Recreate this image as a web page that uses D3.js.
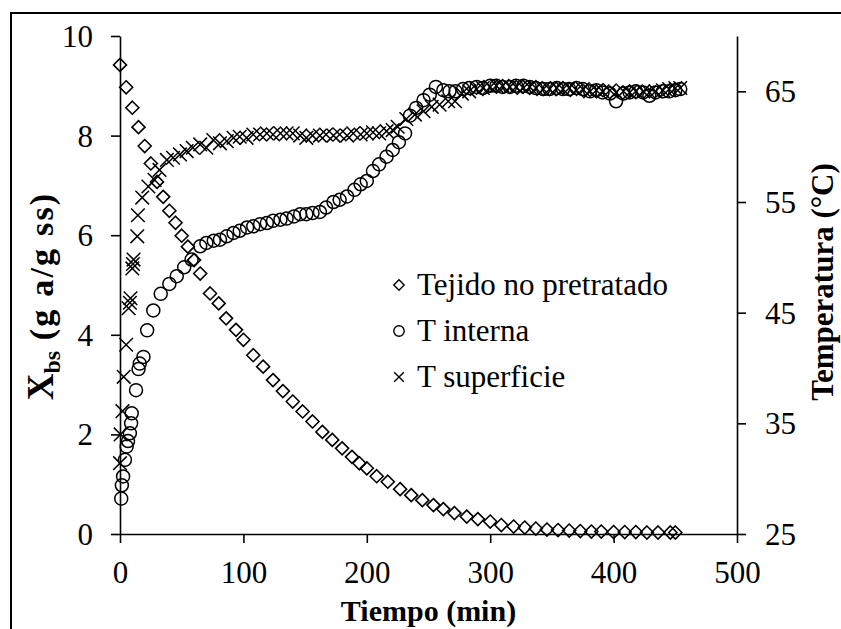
<!DOCTYPE html>
<html>
<head>
<meta charset="utf-8">
<script src="https://cdn.jsdelivr.net/npm/d3@7"></script>
<style>
  html, body { margin: 0; padding: 0; background: #fff; }
  svg { display: block; }
</style>
</head>
<body>
<svg id="chart" width="841" height="629"></svg>
<script>
// Moisture content of untreated tissue (left axis)
const tejidoTime = [0,5,10,15,20,25,30,35,40,45,
  50,55,60,65,73,80,86,94,100,108,
  116,124,132,140,148,156,164,172,180,188,
  194,200,208,217,227,236,245,254,262,271,
  281,290,300,309,319,328,337,346,355,364,
  373,382,390,400,409,418,427,436,446,450];
const tejidoXbs = [9.42,8.97,8.56,8.17,7.79,7.44,7.07,6.77,6.49,6.25,
  5.99,5.77,5.50,5.23,4.83,4.63,4.33,4.10,3.90,3.59,
  3.36,3.09,2.87,2.66,2.46,2.26,2.05,1.89,1.72,1.55,
  1.42,1.32,1.16,1.05,0.90,0.78,0.68,0.58,0.50,0.42,
  0.35,0.30,0.25,0.18,0.15,0.13,0.11,0.09,0.08,0.07,
  0.06,0.05,0.05,0.04,0.04,0.04,0.03,0.03,0.03,0.03];

// Internal temperature (right axis)
const internaTime = [1,1.5,2.5,4,5.4,6.5,8,9,9.5,13,
  15,16,19,22,27,33,40,46,52,58,
  65,70,76,81,86.5,92,97,103,108,113.5,
  119,124,130,135,141,146,151,156,162,167,
  173,178,184,190,195,200,205,210,216,221,
  226,231,235,240,246,251,256,262,267,272,
  278,283,289,294,300,305,310,316,321,327,
  332,337,343,348,354,359,364,370,375,381,
  386,391,397,402,408,413,418,424,429,434,
  440,445,450,454];
const internaTemp = [28.2,29.4,30.2,31.7,32.9,33.4,34.1,35.0,35.9,38.0,
  39.9,40.4,41.0,43.4,45.2,46.7,47.6,48.3,49.1,49.8,
  51.0,51.3,51.5,51.6,51.9,52.2,52.4,52.7,52.8,53.0,
  53.1,53.3,53.4,53.5,53.7,53.9,53.9,54.0,54.1,54.5,
  55.0,55.2,55.5,56.1,56.6,56.9,57.8,58.4,59.1,59.7,
  60.4,61.2,62.8,63.5,64.2,64.7,65.4,65.1,65.0,65.0,
  65.2,65.3,65.4,65.3,65.5,65.5,65.4,65.4,65.5,65.5,
  65.4,65.3,65.2,65.2,65.3,65.2,65.2,65.3,65.2,65.0,
  65.1,64.9,64.8,64.1,64.8,64.9,65.0,64.9,64.6,64.9,
  65.0,65.0,65.1,65.2];

// Surface temperature (right axis)
const superficieTime = [0,0.5,2,3,5,7,8,8.5,10,10.5,
  11,14,14.5,18,23,28,32,38,43,48.6,
  54,59,65,70,75.6,81,86.5,92,97,102.6,
  108,113.5,119,124,130,135,140,146,151,156,
  162,167,173,178,184,189,195,200,205,210,
  216,221,225,232,239,246,252.6,259,266,271.5,
  277,283,289,294,300,305,310,316,321,327,
  332,337,343,348,354,359,364,370,375,381,
  386,391,397,402,408,413,418,424,429,434,
  440,445,450,454];
const superficieTemp = [31.4,34.0,36.1,39.2,42.1,45.4,45.9,46.3,49.0,49.4,
  49.8,51.9,53.8,55.4,56.4,57.0,57.9,58.8,59.0,59.3,
  59.6,59.9,60.2,59.9,60.6,60.3,60.5,60.8,60.9,60.8,
  61.1,61.1,61.2,61.1,61.2,61.2,61.2,61.0,60.8,61.0,
  61.0,61.1,61.0,61.1,61.0,61.2,61.1,61.2,61.3,61.2,
  61.4,61.5,61.8,62.5,62.9,63.2,63.6,63.8,64.1,64.1,
  64.8,65.0,65.2,65.3,65.4,65.5,65.5,65.4,65.4,65.3,
  65.4,65.3,65.2,65.2,65.3,65.2,65.3,65.1,65.2,65.0,
  65.1,65.0,65.1,64.9,65.0,64.9,65.0,65.0,64.9,65.0,
  65.1,65.2,65.3,65.3];

// Axis ticks
const timeTicks = [0,100,200,300,400,500];
const xbsTicks = [0,2,4,6,8,10];
const tempTicks = [25,35,45,55,65];

const legendLabels = ["Tejido no pretratado", "T interna", "T superficie"];
const titleX = "Tiempo (min)";
const titleRight = "Temperatura (°C)";

const FONT = '"Liberation Serif", "Times New Roman", Tinos, serif';

const svg = d3.select("#chart");

const x = d3.scaleLinear().domain([0, 500]).range([120, 737]);
const yL = d3.scaleLinear().domain([0, 10]).range([534, 36]);
const yR = d3.scaleLinear().domain([25, 70]).range([534, 36]);

// outer frame (runs past the right and bottom edges)
svg.append("rect")
  .attr("x", 11).attr("y", 13)
  .attr("width", 900).attr("height", 700)
  .attr("fill", "none").attr("stroke", "#000").attr("stroke-width", 2);

const tickFont = 31;

function styleAxis(g) {
  g.attr("font-family", FONT).attr("font-size", tickFont);
  g.selectAll("path.domain").attr("stroke", "#000").attr("stroke-width", 1.6);
  g.selectAll(".tick line").attr("stroke", "#000").attr("stroke-width", 1.6);
  g.selectAll(".tick text")
    .attr("font-family", FONT)
    .attr("font-size", tickFont).attr("fill", "#000");
}

// bottom axis
const gx = svg.append("g").attr("transform", "translate(0,534)")
  .call(d3.axisBottom(x).tickValues(timeTicks).tickFormat(d3.format("d"))
    .tickSize(9).tickSizeOuter(0));
styleAxis(gx);
gx.selectAll(".tick text").attr("y", 49).attr("dy", 0);

// left axis
const gl = svg.append("g").attr("transform", "translate(120,0)")
  .call(d3.axisLeft(yL).tickValues(xbsTicks).tickFormat(d3.format("d"))
    .tickSize(9).tickSizeOuter(0).tickPadding(18));
styleAxis(gl);
gl.selectAll(".tick text").attr("dy", "0.34em");

// right axis
const gr = svg.append("g").attr("transform", "translate(737,0)")
  .call(d3.axisRight(yR).tickValues(tempTicks).tickFormat(d3.format("d"))
    .tickSize(9).tickSizeOuter(0).tickPadding(19));
styleAxis(gr);
gr.selectAll(".tick text").attr("dy", "0.34em");

// axis titles
svg.append("text")
  .attr("x", 428.5).attr("y", 621)
  .attr("text-anchor", "middle")
  .attr("font-family", FONT)
  .attr("font-size", 30).attr("font-weight", "bold")
  .text(titleX);

const lt = svg.append("text")
  .attr("transform", "translate(53,296) rotate(-90)")
  .attr("text-anchor", "middle")
  .attr("font-family", FONT)
  .attr("font-size", 34).attr("font-weight", "bold");
lt.append("tspan").attr("font-size", 37).text("X");
lt.append("tspan").attr("font-size", 24).attr("dy", 7).text("bs");
lt.append("tspan").attr("dy", -7).attr("letter-spacing", 2.2).text(" (g a/g ss)");

svg.append("text")
  .attr("transform", "translate(833,282) rotate(-90)")
  .attr("text-anchor", "middle")
  .attr("font-family", FONT)
  .attr("font-size", 31).attr("font-weight", "bold")
  .text(titleRight);

// marker shapes
const diamond = (r) => `M0,${-r}L${r},0L0,${r}L${-r},0Z`;
const cross = (r) => `M${-r},${-r}L${r},${r}M${-r},${r}L${r},${-r}`;

const plot = svg.append("g");

const tejido = d3.zip(tejidoTime, tejidoXbs);
const interna = d3.zip(internaTime, internaTemp);
const superficie = d3.zip(superficieTime, superficieTemp);

plot.append("g").selectAll("path").data(superficie).join("path")
  .attr("transform", d => `translate(${x(d[0])},${yR(d[1])})`)
  .attr("d", cross(6.8))
  .attr("fill", "none").attr("stroke", "#000").attr("stroke-width", 1.5);

plot.append("g").selectAll("circle").data(interna).join("circle")
  .attr("cx", d => x(d[0])).attr("cy", d => yR(d[1])).attr("r", 6.5)
  .attr("fill", "none").attr("stroke", "#000").attr("stroke-width", 1.5);

plot.append("g").selectAll("path").data(tejido).join("path")
  .attr("transform", d => `translate(${x(d[0])},${yL(d[1])})`)
  .attr("d", diamond(6.5))
  .attr("fill", "none").attr("stroke", "#000").attr("stroke-width", 1.6);

// legend
const leg = svg.append("g");
const legY = [295, 341, 387];
legendLabels.forEach((lab, i) => {
  const cy = legY[i] - 10;
  if (i === 0) {
    leg.append("path").attr("transform", `translate(399,${cy})`).attr("d", diamond(5.2))
      .attr("fill", "none").attr("stroke", "#000").attr("stroke-width", 1.4);
  } else if (i === 1) {
    leg.append("circle").attr("cx", 399).attr("cy", cy).attr("r", 5.2)
      .attr("fill", "none").attr("stroke", "#000").attr("stroke-width", 1.4);
  } else {
    leg.append("path").attr("transform", `translate(399,${cy})`).attr("d", cross(4.8))
      .attr("fill", "none").attr("stroke", "#000").attr("stroke-width", 1.4);
  }
  leg.append("text").attr("x", 417).attr("y", legY[i])
    .attr("font-family", FONT)
    .attr("font-size", 31).text(lab);
});
</script>
</body>
</html>
